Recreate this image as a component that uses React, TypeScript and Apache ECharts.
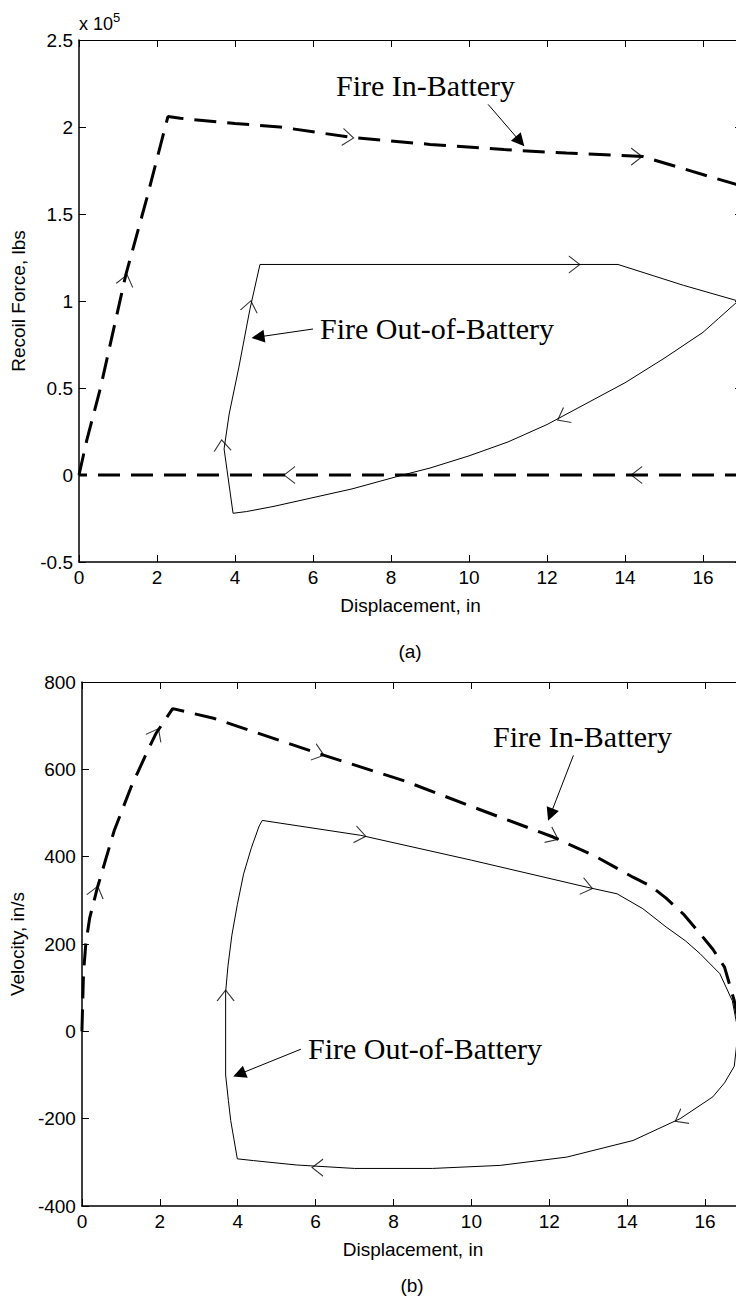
import React, { useEffect, useRef } from "react";
import * as echarts from "echarts";

// ---------- (a) Recoil force (x 10^5 lbs) vs displacement (in) ----------
const inBatteryForceX = [0, 0.2, 0.55, 0.9, 1.2, 1.75, 2.28, 2.6, 4, 5.15, 7, 9, 10.9, 12.5, 14.46, 15.5, 16.85, 17.3, 17.3, 12, 6, 0];
const inBatteryForceY = [0, 0.2, 0.5, 0.85, 1.15, 1.6, 2.06, 2.05, 2.02, 2.0, 1.94, 1.9, 1.87, 1.85, 1.83, 1.76, 1.67, 1.64, 0, 0, 0, 0];

const outBatteryForceX = [3.72, 3.85, 4.1, 4.38, 4.64, 13.82, 15.5, 16.9, 16.4, 16.0, 15, 14, 13, 12, 11, 10, 9, 8.3, 7, 6, 5, 4.3, 3.95, 3.72];
const outBatteryForceY = [0.15, 0.35, 0.62, 0.95, 1.21, 1.21, 1.09, 1.0, 0.9, 0.82, 0.67, 0.53, 0.41, 0.29, 0.19, 0.11, 0.04, 0, -0.08, -0.13, -0.18, -0.21, -0.22, 0.15];

// direction chevrons: x, y, screen angle (deg, counter-clockwise)
const forceArrowX = [1.2, 6.9, 14.3, 14.3, 5.4, 4.38, 3.67, 12.7, 12.4];
const forceArrowY = [1.12, 1.94, 1.83, 0, 0, 0.97, 0.17, 1.21, 0.33];
const forceArrowAngle = [76, -6, 0, 180, 180, 79, 95, 0, -152];

// annotation arrows: start x, start y, end x, end y
const forceNoteArrows = [
  [10.49, 2.13, 11.31, 1.917],
  [6.0, 0.839, 4.59, 0.793],
];

const forceTicksY = { min: -0.5, max: 2.5, interval: 0.5 };

// ---------- (b) Velocity (in/s) vs displacement (in) ----------
const inBatteryVelX = [0, 0.04, 0.1, 0.2, 0.4, 0.83, 1.26, 1.69, 1.9, 2.33, 3.38, 6.08, 8.3, 10, 12.1, 13.2, 14.15, 14.6, 15.0, 15.45, 15.87, 16.2, 16.5, 16.75, 16.9];
const inBatteryVelY = [0, 133, 201, 260, 330, 460, 559, 643, 682, 739, 717, 636, 573, 515, 445, 400, 353, 333, 305, 268, 224, 188, 147, 70, 0];

const outBatteryVelX = [3.69, 3.69, 3.75, 3.85, 3.99, 4.15, 4.35, 4.55, 4.63, 7.15, 10, 12.97, 13.74, 14.4, 15, 15.5, 15.87, 16.38, 16.7, 16.85, 16.75, 16.5, 16.2, 15.36, 14.15, 12.45, 10.74, 9, 7, 5.5, 4.4, 3.99, 3.82, 3.76, 3.69];
const outBatteryVelY = [-100, 90, 150, 220, 290, 360, 420, 470, 483, 449, 392, 330, 315, 281, 239, 207, 178, 132, 70, 0, -80, -118, -150, -200, -250, -288, -307, -314, -314, -306, -296, -292, -204, -158, -100];

const velArrowX = [0.37, 1.9, 6.08, 12.1, 7.15, 12.97, 15.36, 6.05, 3.69];
const velArrowY = [320, 682, 636, 445, 449, 330, -200, -312, 82];
const velArrowAngle = [75, 62, -18, -25, -10, -13, -151, 180, 90];

const velNoteArrows = [
  [12.62, 632, 12.03, 496],
  [5.62, -41, 4.04, -98],
];

const velTicksY = { min: -400, max: 800, interval: 200 };

const dispTicksX = { min: 0, max: 17, interval: 2 };

const black = "#000";
const sans = "'Liberation Sans', Arial, Helvetica, sans-serif";
const serif = "'Liberation Serif', 'Times New Roman', serif";

const zip = (xs: number[], ys: number[]) => xs.map((x, i) => [x, ys[i]]);

function xAxis(gridIndex: number, position: "top" | "bottom") {
  const main = position === "bottom";
  return {
    type: "value",
    gridIndex,
    position,
    ...dispTicksX,
    axisLine: { show: true, onZero: false, lineStyle: { color: black, width: main ? 1.5 : 1 } },
    axisTick: { show: true, inside: true, length: 7, lineStyle: { color: black, width: 1 } },
    axisLabel: {
      show: main,
      showMaxLabel: false,
      color: black,
      fontSize: 19,
      fontFamily: sans,
      margin: 6,
    },
    splitLine: { show: false },
    name: main ? "Displacement, in" : "",
    nameLocation: "middle",
    nameGap: 34,
    nameTextStyle: { color: black, fontSize: 19, fontFamily: sans },
  };
}

function yAxis(gridIndex: number, position: "left" | "right", ticks: any, name: string) {
  const main = position === "left";
  return {
    type: "value",
    gridIndex,
    position,
    ...ticks,
    axisLine: { show: true, onZero: false, lineStyle: { color: black, width: main ? 1.5 : 1 } },
    axisTick: { show: true, inside: true, length: 7, lineStyle: { color: black, width: 1 } },
    axisLabel: { show: main, color: black, fontSize: 19, fontFamily: sans, margin: 6 },
    splitLine: { show: false },
    name: main ? name : "",
    nameLocation: "middle",
    nameRotate: 90,
    nameGap: 51,
    nameTextStyle: { color: black, fontSize: 19, fontFamily: sans },
  };
}

const chevron = "path://M0,0L10,8.5L0,17";

function arrowsData(xs: number[], ys: number[], angles: number[]) {
  return xs.map((x, i) => ({ value: [x, ys[i]], symbolRotate: angles[i] }));
}

function noteLines(arr: number[][]) {
  return arr.map((a) => [{ coord: [a[0], a[1]] }, { coord: [a[2], a[3]] }]);
}

function text(str: string, x: number, y: number, size: number, family: string, align = "left") {
  return {
    type: "text",
    x,
    y,
    silent: true,
    style: { text: str, fontSize: size, fontFamily: family, fill: black, align, verticalAlign: "middle" },
  };
}

export default function App() {
  const ref = useRef<HTMLDivElement>(null);
  useEffect(() => {
    if (!ref.current) return;
    const chart = echarts.init(ref.current, null, { renderer: "svg" });
    const dashed = { color: black, width: 3, type: [22, 11] };
    const solid = { color: black, width: 1, type: "solid" };
    const chevronSeries = (xi: number, yi: number, data: any[], notes: number[][]) => ({
      type: "scatter",
      xAxisIndex: xi,
      yAxisIndex: yi,
      symbol: chevron,
      symbolSize: [11, 17],
      itemStyle: { color: "transparent", borderColor: black, borderWidth: 1 },
      silent: true,
      z: 5,
      data,
      markLine: {
        silent: true,
        symbol: ["none", "triangle"],
        symbolSize: 13,
        lineStyle: { color: black, width: 1, type: "solid" },
        itemStyle: { color: black },
        label: { show: false },
        data: noteLines(notes),
      },
    });
    chart.setOption({
      animation: false,
      backgroundColor: "#fff",
      grid: [
        { left: 79, top: 40, width: 663, height: 522 },
        { left: 81, top: 682, width: 663, height: 524 },
      ],
      xAxis: [xAxis(0, "bottom"), xAxis(0, "top"), xAxis(1, "bottom"), xAxis(1, "top")],
      yAxis: [
        yAxis(0, "left", forceTicksY, "Recoil Force, lbs"),
        yAxis(0, "right", forceTicksY, ""),
        yAxis(1, "left", velTicksY, "Velocity, in/s"),
        yAxis(1, "right", velTicksY, ""),
      ],
      series: [
        {
          name: "Fire In-Battery",
          type: "line",
          xAxisIndex: 0,
          yAxisIndex: 0,
          data: zip(inBatteryForceX, inBatteryForceY),
          showSymbol: false,
          symbol: "none",
          lineStyle: dashed,
        },
        {
          name: "Fire Out-of-Battery",
          type: "line",
          xAxisIndex: 0,
          yAxisIndex: 0,
          data: zip(outBatteryForceX, outBatteryForceY),
          showSymbol: false,
          symbol: "none",
          lineStyle: solid,
        },
        chevronSeries(0, 0, arrowsData(forceArrowX, forceArrowY, forceArrowAngle), forceNoteArrows),
        {
          name: "Fire In-Battery",
          type: "line",
          xAxisIndex: 2,
          yAxisIndex: 2,
          data: zip(inBatteryVelX, inBatteryVelY),
          showSymbol: false,
          symbol: "none",
          lineStyle: dashed,
        },
        {
          name: "Fire Out-of-Battery",
          type: "line",
          xAxisIndex: 2,
          yAxisIndex: 2,
          data: zip(outBatteryVelX, outBatteryVelY),
          showSymbol: false,
          symbol: "none",
          lineStyle: solid,
        },
        chevronSeries(2, 2, arrowsData(velArrowX, velArrowY, velArrowAngle), velNoteArrows),
      ],
      graphic: [
        text("x 10", 79, 24, 18, sans),
        text("5", 113, 17, 13, sans),
        text("Fire In-Battery", 336, 85, 30, serif),
        text("Fire Out-of-Battery", 320, 328, 30, serif),
        text("(a)", 410, 651, 19, sans, "center"),
        text("Fire In-Battery", 493, 736, 30, serif),
        text("Fire Out-of-Battery", 308, 1048, 30, serif),
        text("(b)", 412, 1285, 19, sans, "center"),
      ],
    });
    return () => chart.dispose();
  }, []);
  return (
    <div
      style={{
        position: "absolute",
        left: 0,
        top: 0,
        width: 736,
        height: 1301,
        overflow: "hidden",
        background: "#fff",
      }}
    >
      <div ref={ref} style={{ width: 760, height: 1301 }} />
    </div>
  );
}
